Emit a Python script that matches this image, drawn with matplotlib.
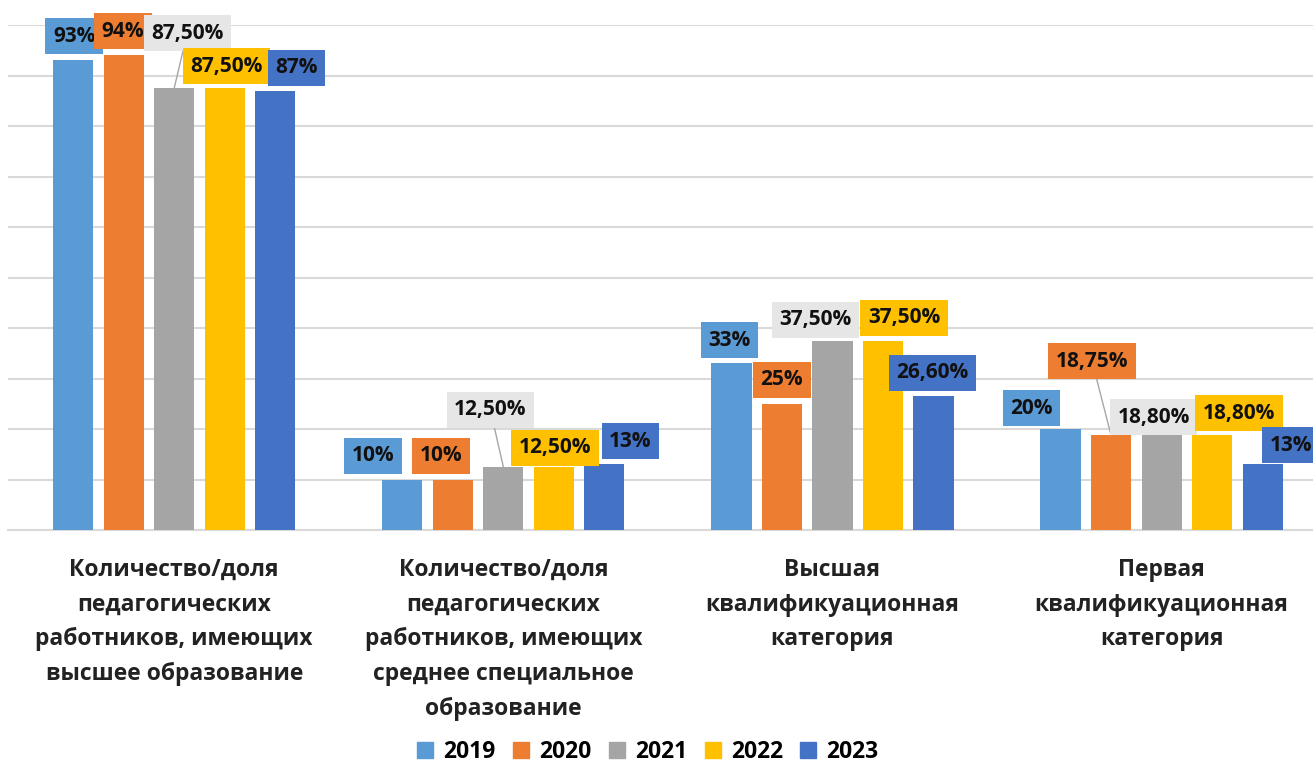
import numpy as np
import matplotlib
matplotlib.use('Agg')
import matplotlib.pyplot as plt
import matplotlib.patches as mpatches

plt.rcParams['font.family'] = ['Open Sans', 'DejaVu Sans']

categories = [
    'Количество/доля\nпедагогических\nработников, имеющих\nвысшее образование',
    'Количество/доля\nпедагогических\nработников, имеющих\nсреднее специальное\nобразование',
    'Высшая\nквалификуационная\nкатегория',
    'Первая\nквалификуационная\nкатегория',
]
years = ['2019', '2020', '2021', '2022', '2023']

# bar heights per year (one value per category)
v2019 = [93, 10, 33, 20]
v2020 = [94, 10, 25, 18.75]
v2021 = [87.5, 12.5, 37.5, 18.8]
v2022 = [87.5, 12.5, 37.5, 18.8]
v2023 = [87, 13, 26.6, 13]

# printed labels (as in the original chart)
l2019 = ['93%', '10%', '33%', '20%']
l2020 = ['94%', '10%', '25%', '18,75%']
l2021 = ['87,50%', '12,50%', '37,50%', '18,80%']
l2022 = ['87,50%', '12,50%', '37,50%', '18,80%']
l2023 = ['87%', '13%', '26,60%', '13%']

colors = ['#5B9BD5', '#ED7D31', '#A5A5A5', '#FFC000', '#4472C4']
box_colors = ['#5B9BD5', '#ED7D31', '#E7E6E6', '#FFC000', '#4472C4']

# label offsets from bar top (pixels) and whether a leader line is drawn
offsets = [
    [(1, 24), (-29, 24), (-2, 23), (-29, 21)],
    [(-1, 24), (-12, 24), (0, 24), (-19, 74)],
    [(13, 55), (-13, 57), (-17, 21), (-8, 18)],
    [(2, 22), (1, 19), (21, 23), (27, 22)],
    [(21, 23), (26, 23), (-1, 23), (28, 19)],
]
leaders = [(2, 0), (2, 1), (1, 3)]

vals = [v2019, v2020, v2021, v2022, v2023]
labs = [l2019, l2020, l2021, l2022, l2023]

fig = plt.figure(figsize=(13.13, 7.65), dpi=100)
ax = fig.add_axes([8 / 1313, 1 - 530 / 765, 1 - 8 / 1313, (530 - 25) / 765])

x = np.arange(len(categories))
step, width = 0.1535, 0.122
for j in range(len(years)):
    xs = x + (j - 2) * step
    ax.bar(xs, vals[j], width, color=colors[j], zorder=3)
    for i in range(len(categories)):
        dx, dy = offsets[j][i]
        lead = (j, i) in leaders
        ax.annotate(labs[j][i], (xs[i], vals[j][i]), xytext=(dx, dy),
                    textcoords='offset pixels', ha='center', va='center',
                    fontsize=15, fontweight='bold', color='#111111', zorder=5,
                    bbox=dict(boxstyle='square,pad=0.36', fc=box_colors[j], ec='none'),
                    arrowprops=dict(arrowstyle='-', color='#A6A6A6', lw=1,
                                    shrinkA=0, shrinkB=0) if lead else None)

ax.set_ylim(0, 100)
ax.set_xlim(-0.505, 3.46)
ax.set_yticks(np.arange(0, 101, 10))
ax.yaxis.grid(True, color='#D9D9D9', lw=1.5, zorder=0)
ax.tick_params(axis='y', left=False, labelleft=False)
ax.tick_params(axis='x', length=0, pad=20)
ax.set_xticks(x)
ax.set_xticklabels(categories, fontsize=16.5, fontweight='bold', color='#222222',
                   linespacing=1.6, va='top')
for s in ['left', 'right', 'top']:
    ax.spines[s].set_visible(False)
ax.spines['bottom'].set_color('#D9D9D9')
ax.spines['bottom'].set_linewidth(1.5)

handles = [mpatches.Patch(color=colors[j], label=years[j]) for j in range(len(years))]
fig.legend(handles=handles, loc='center', bbox_to_anchor=(0.4935, 1 - 752 / 765),
           ncol=5, frameon=False, handlelength=0.7, handleheight=0.7,
           handletextpad=0.45, columnspacing=0.75,
           prop={'size': 16.5, 'weight': 'bold'})

fig.savefig('out.png', dpi=100)
